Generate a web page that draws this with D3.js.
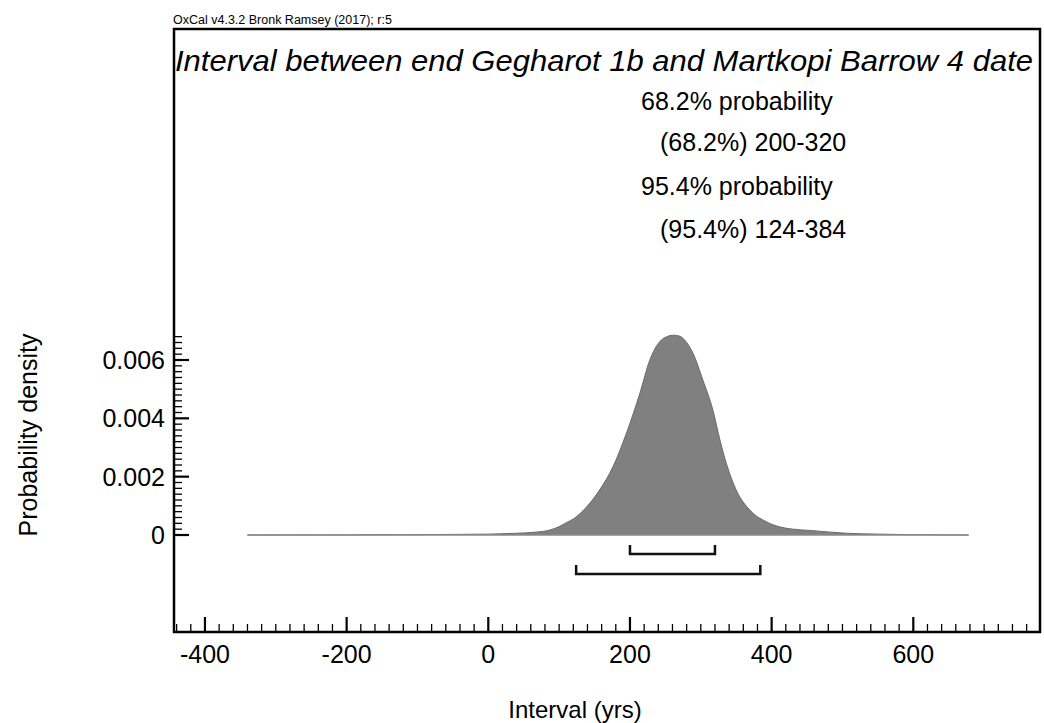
<!DOCTYPE html>
<html><head><meta charset="utf-8">
<script src="https://cdn.jsdelivr.net/npm/d3@7"></script>
<style>body{margin:0;background:#fff}svg{display:block}text{font-family:"Liberation Sans",Arial,sans-serif;fill:#000}</style>
</head><body>
<svg id="c" width="1044" height="723"></svg>
<script>
const densityX = [-340,-200,-124,-50,0,16,40,63,87,101,110,120,139,157,176,195,214,228,242,252,261,270,277,289,303,317,327,336,350,369,392,411,430,458,505,552,600,678];
const densityY = [0,0.000003,0.00001,0.00002,0.00003,0.00004,0.00006,0.00009,0.00017,0.0003,0.00042,0.00055,0.00097,0.00154,0.00234,0.00349,0.00486,0.0060,0.00663,0.0068,0.00685,0.00682,0.00669,0.00623,0.00531,0.00429,0.00326,0.00246,0.00154,0.00086,0.00046,0.00028,0.0002,0.00015,0.00006,0.00003,0.00001,0];
const ranges = [{label:"68.2%", from:200, to:320}, {label:"95.4%", from:124, to:384}];
const xTickLabels = [-400,-200,0,200,400,600];
const yTickLabels = [0,0.002,0.004,0.006];
const titleText = "Interval between end Gegharot 1b and Martkopi Barrow 4 date";
const headerText = "OxCal v4.3.2 Bronk Ramsey (2017); r:5";
const probLines = ["68.2% probability","(68.2%) 200-320","95.4% probability","(95.4%) 124-384"];

const svg = d3.select("#c");
const F = {l:174, r:1040, t:29, b:632};
const x = d3.scaleLinear().domain([0,600]).range([488.3,913.3]);
const y = d3.scaleLinear().domain([0,0.006]).range([535,360]);

// header
svg.append("text").attr("x",173).attr("y",24).attr("font-size",12.5).text(headerText);

// density area
const pts = densityX.map((d,i)=>[d,densityY[i]]);
const area = d3.area().x(d=>x(d[0])).y0(y(0)).y1(d=>y(d[1])).curve(d3.curveMonotoneX);
svg.append("path").attr("d",area(pts)).attr("fill","#808080").attr("stroke","#6a6a6a").attr("stroke-width",1);
svg.append("line").attr("x1",x(densityX[0])).attr("x2",x(densityX[densityX.length-1]))
  .attr("y1",y(0)).attr("y2",y(0)).attr("stroke","#999").attr("stroke-width",1.2);

// range brackets
ranges.forEach((r,i)=>{
  const yy = y(0)+19+i*20;
  svg.append("path").attr("d",`M${x(r.from)},${yy-9}V${yy}H${x(r.to)}V${yy-9}`)
    .attr("fill","none").attr("stroke","#111").attr("stroke-width",2.5);
});

// frame
svg.append("rect").attr("x",F.l).attr("y",F.t).attr("width",F.r-F.l).attr("height",F.b-F.t)
  .attr("fill","none").attr("stroke","#000").attr("stroke-width",2.5);

// x ticks
const xMinor = d3.range(-440,780,20);
svg.append("g").selectAll("line").data(xMinor).join("line")
  .attr("x1",d=>x(d)).attr("x2",d=>x(d)).attr("y1",F.b).attr("y2",d=>F.b-(d%200===0?15:8))
  .attr("stroke","#000").attr("stroke-width",d=>d%200===0?2.2:1.3);
svg.append("g").selectAll("text").data(xTickLabels).join("text")
  .attr("x",d=>x(d)).attr("y",663).attr("text-anchor","middle").attr("font-size",25).text(d=>d);

// y ticks
const yMinor = d3.range(0,35).map(i=>i*0.0002);
svg.append("g").selectAll("line").data(yMinor).join("line")
  .attr("x1",F.l).attr("x2",(d,i)=>F.l+(i%10===0?15:8)).attr("y1",d=>y(d)).attr("y2",d=>y(d))
  .attr("stroke","#000").attr("stroke-width",(d,i)=>i%10===0?2.2:1.3);
svg.append("g").selectAll("text").data(yTickLabels).join("text")
  .attr("x",165).attr("y",d=>y(d)+9).attr("text-anchor","end").attr("font-size",25)
  .text(d=>d===0?"0":d3.format(".3f")(d));

// title
svg.append("text").attr("x",1033).attr("y",71).attr("text-anchor","end").attr("font-size",29)
  .attr("font-style","italic").attr("textLength",858).attr("lengthAdjust","spacingAndGlyphs").text(titleText);

// probability text
const px=[641,660,641,660], py=[110,151,195,238];
probLines.forEach((t,i)=>svg.append("text").attr("x",px[i]).attr("y",py[i]).attr("font-size",25).text(t));

// axis titles
svg.append("text").attr("x",575).attr("y",718).attr("text-anchor","middle").attr("font-size",24).text("Interval (yrs)");
svg.append("text").attr("transform","translate(37,435) rotate(-90)").attr("text-anchor","middle").attr("font-size",25).text("Probability density");
</script>
</body></html>
